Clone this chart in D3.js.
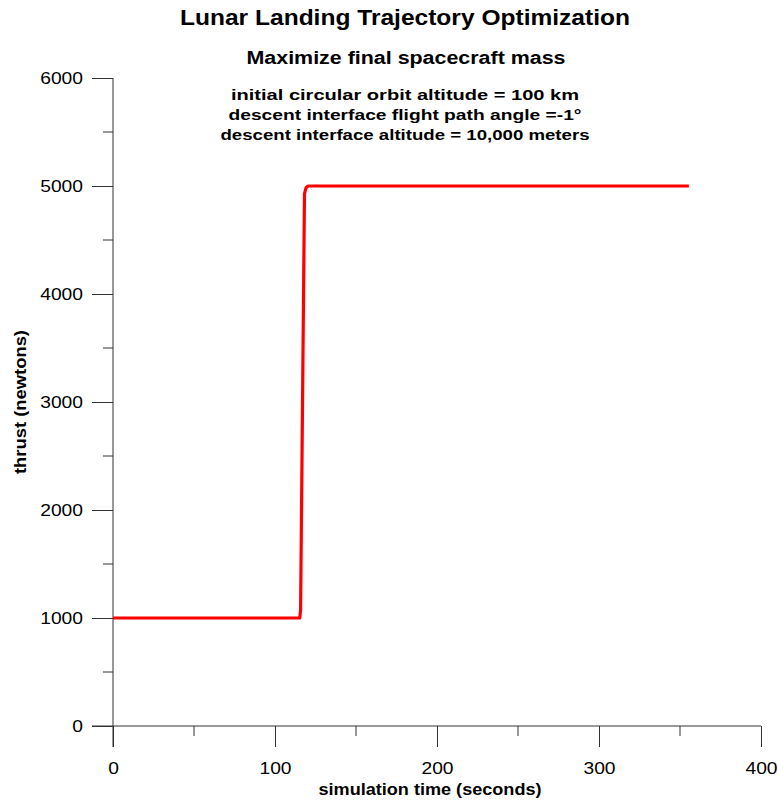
<!DOCTYPE html>
<html>
<head>
<meta charset="utf-8">
<script src="https://cdn.jsdelivr.net/npm/d3@7"></script>
<style>
  body { margin: 0; background: #fff; }
  text { font-family: "Liberation Sans", Arial, sans-serif; }
</style>
</head>
<body>
<div id="chart"></div>
<script>
// values
const timeSec = [0, 115.3, 115.8, 118.2, 119.2, 120.5, 355.5];
const thrustN = [1000, 1000, 1080, 4930, 4985, 5000, 5000];
const xTicks = [0, 100, 200, 300, 400];
const yTicks = [0, 1000, 2000, 3000, 4000, 5000, 6000];
const notes = [
  "initial circular orbit altitude = 100 km",
  "descent interface flight path angle =-1\u00b0",
  "descent interface altitude = 10,000 meters"
];
const noteWidths = [348, 353, 369];

const WIDTH = 778, HEIGHT = 804;
const svg = d3.select("#chart").append("svg")
  .attr("width", WIDTH).attr("height", HEIGHT);

const x = d3.scaleLinear().domain([0, 400]).range([113, 761]);
const y = d3.scaleLinear().domain([0, 6000]).range([726, 78]);

// minor ticks
const xMinor = d3.range(50, 400, 100);
const yMinor = d3.range(500, 6000, 1000);

const xAxis = svg.append("g")
  .attr("transform", "translate(0," + y(0) + ")")
  .call(d3.axisBottom(x).tickValues(xTicks).tickFormat(d3.format("d"))
    .tickSize(21).tickSizeOuter(0).tickPadding(15));
xAxis.select(".domain").attr("d", "M" + (x(0) - 21) + ",0H" + x(400));
xAxis.selectAll("text").attr("font-size", 17).attr("font-family", "Liberation Sans, Arial, sans-serif")
  .attr("textLength", function() { return this.textContent.length * 10.7; })
  .attr("lengthAdjust", "spacingAndGlyphs");
xAxis.selectAll("line, path").attr("stroke", "#333");
svg.append("g")
  .selectAll("line").data(xMinor).enter().append("line")
  .attr("x1", d => x(d)).attr("x2", d => x(d))
  .attr("y1", y(0)).attr("y2", y(0) + 10)
  .attr("stroke", "#333");

const yAxis = svg.append("g")
  .attr("transform", "translate(" + x(0) + ",0)")
  .call(d3.axisLeft(y).tickValues(yTicks).tickFormat(d3.format("d"))
    .tickSize(21).tickSizeOuter(0).tickPadding(9));
yAxis.select(".domain").attr("d", "M0," + y(6000) + "V" + (y(0) + 21));
yAxis.selectAll("text").attr("font-size", 17).attr("font-family", "Liberation Sans, Arial, sans-serif")
  .attr("textLength", function() { return this.textContent.length * 10.7; })
  .attr("lengthAdjust", "spacingAndGlyphs");
yAxis.selectAll("line, path").attr("stroke", "#333");
svg.append("g")
  .selectAll("line").data(yMinor).enter().append("line")
  .attr("x1", x(0) - 10).attr("x2", x(0))
  .attr("y1", d => y(d)).attr("y2", d => y(d))
  .attr("stroke", "#333");

const line = d3.line()
  .x((d, i) => x(timeSec[i]))
  .y(d => y(d))
  .curve(d3.curveLinear);

svg.append("path")
  .datum(thrustN)
  .attr("d", line)
  .attr("fill", "none")
  .attr("stroke", "#ff0000")
  .attr("stroke-width", 3.2)
  .attr("stroke-linejoin", "round");

// titles
svg.append("text")
  .attr("x", 405).attr("y", 25)
  .attr("text-anchor", "middle")
  .attr("font-size", 22).attr("font-weight", "bold")
  .attr("textLength", 450).attr("lengthAdjust", "spacingAndGlyphs")
  .text("Lunar Landing Trajectory Optimization");

svg.append("text")
  .attr("x", 406).attr("y", 64)
  .attr("text-anchor", "middle")
  .attr("font-size", 18).attr("font-weight", "bold")
  .attr("textLength", 319).attr("lengthAdjust", "spacingAndGlyphs")
  .text("Maximize final spacecraft mass");

svg.selectAll(".note").data(notes).enter().append("text")
  .attr("class", "note")
  .attr("x", 405).attr("y", (d, i) => 100 + 20 * i)
  .attr("text-anchor", "middle")
  .attr("font-size", 15.5).attr("font-weight", "bold")
  .attr("textLength", (d, i) => noteWidths[i]).attr("lengthAdjust", "spacingAndGlyphs")
  .text(d => d);

svg.append("text")
  .attr("x", 430).attr("y", 795)
  .attr("text-anchor", "middle")
  .attr("font-size", 16).attr("font-weight", "bold")
  .attr("textLength", 223).attr("lengthAdjust", "spacingAndGlyphs")
  .text("simulation time (seconds)");

svg.append("text")
  .attr("transform", "translate(26,402) rotate(-90)")
  .attr("text-anchor", "middle")
  .attr("font-size", 16).attr("font-weight", "bold")
  .attr("textLength", 144).attr("lengthAdjust", "spacingAndGlyphs")
  .text("thrust (newtons)");
</script>
</body>
</html>
